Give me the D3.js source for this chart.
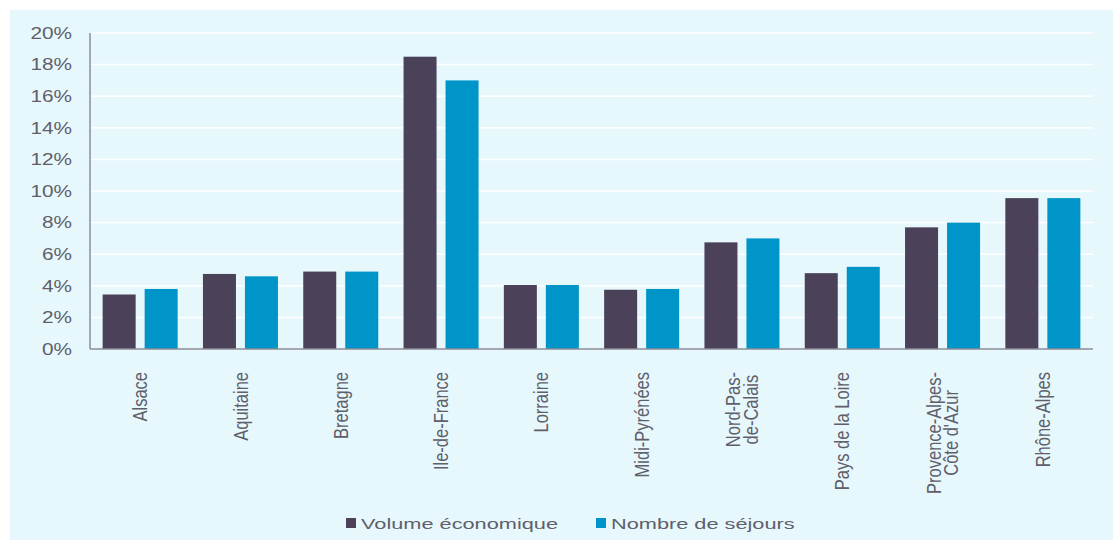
<!DOCTYPE html>
<html>
<head>
<meta charset="utf-8">
<script src="https://cdn.jsdelivr.net/npm/d3@7"></script>
<style>
  body { margin: 0; background: #fff; }
  text { font-family: "Liberation Sans", Arial, sans-serif; fill: #5f5f6b; }
</style>
</head>
<body>
<div id="chart"></div>
<script>
let regions = ["Alsace", "Aquitaine", "Bretagne", "Ile-de-France", "Lorraine", "Midi-Pyrénées",
  "Nord-Pas-\nde-Calais", "Pays de la Loire", "Provence-Alpes-\nCôte d'Azur", "Rhône-Alpes"];
let series = ["Volume économique", "Nombre de séjours"];
let volume = [3.45, 4.75, 4.9, 18.5, 4.05, 3.75, 6.75, 4.8, 7.7, 9.55];
let sejours = [3.8, 4.6, 4.9, 17.0, 4.05, 3.8, 7.0, 5.2, 8.0, 9.55];
let yTicks = [0, 2, 4, 6, 8, 10, 12, 14, 16, 18, 20];
let colors = ["#4b425a", "#0095c8"];

let width = 1113;
let height = 542;
let plot = { left: 90, right: 1093, top: 33, bottom: 349 };

let svg = d3.select("#chart").append("svg")
  .attr("width", width)
  .attr("height", height);

// fond du graphique
svg.append("rect")
  .attr("x", 10).attr("y", 10)
  .attr("width", width - 10).attr("height", height - 12)
  .attr("fill", "#e7f8fd");

let x = d3.scaleBand().domain(regions).range([plot.left, plot.right]);
let xInner = d3.scaleBand().domain(series).range([0, x.bandwidth()])
  .paddingInner(0.214).paddingOuter(0.301);
let y = d3.scaleLinear().domain([0, 20]).range([plot.bottom, plot.top]);

// grille
svg.append("g").selectAll("line").data(yTicks.slice(1)).join("line")
  .attr("x1", plot.left).attr("x2", plot.right)
  .attr("y1", d => y(d)).attr("y2", d => y(d))
  .attr("stroke", "#ffffff").attr("stroke-width", 1.5);

// barres
let rows = regions.map((r, i) => ({ region: r, values: [volume[i], sejours[i]] }));
svg.append("g").selectAll("g").data(rows).join("g")
  .attr("transform", d => `translate(${x(d.region)},0)`)
  .selectAll("rect").data(d => d.values.map((v, j) => ({ key: series[j], v, j })))
  .join("rect")
  .attr("x", d => xInner(d.key))
  .attr("y", d => y(d.v))
  .attr("width", xInner.bandwidth())
  .attr("height", d => y(0) - y(d.v))
  .attr("fill", d => colors[d.j]);

// axes
let axisColor = "#8d8d97";
svg.append("line")
  .attr("x1", plot.left).attr("x2", plot.left)
  .attr("y1", plot.top).attr("y2", plot.bottom)
  .attr("stroke", axisColor).attr("stroke-width", 1.5);
svg.append("line")
  .attr("x1", plot.left).attr("x2", plot.right)
  .attr("y1", plot.bottom).attr("y2", plot.bottom)
  .attr("stroke", axisColor).attr("stroke-width", 1.5);

// labels axe Y
svg.append("g").selectAll("text").data(yTicks).join("text")
  .attr("transform", d => `translate(72,${y(d)}) scale(1.3,1)`)
  .attr("text-anchor", "end")
  .attr("dy", "0.36em")
  .attr("font-size", "16px")
  .text(d => d + "%");

// labels axe X (verticaux)
let xl = svg.append("g").selectAll("g").data(regions).join("g")
  .attr("transform", d => `translate(${x(d) + x.bandwidth() / 2},372) scale(1.22,1) rotate(-90)`);
xl.each(function (d) {
  let g = d3.select(this);
  let lines = d.split("\n");
  let texts = lines.map((l, k) => g.append("text")
    .attr("font-size", "16.5px")
    .attr("y", (k - (lines.length - 1) / 2) * 14)
    .attr("dy", "0.35em")
    .text(l));
  let maxLen = d3.max(texts, t => t.node().getComputedTextLength());
  texts.forEach(t => t.attr("text-anchor", "middle").attr("x", -maxLen / 2));
});

// légende
let legendX = [346, 596];
let lg = svg.append("g").selectAll("g").data(series).join("g")
  .attr("transform", (d, i) => `translate(${legendX[i]},518)`);
lg.append("rect")
  .attr("width", 10).attr("height", 10)
  .attr("fill", (d, i) => colors[i]);
lg.append("text")
  .attr("transform", "translate(15,11) scale(1.45,1)")
  .attr("font-size", "15px")
  .text(d => d);
</script>
</body>
</html>
